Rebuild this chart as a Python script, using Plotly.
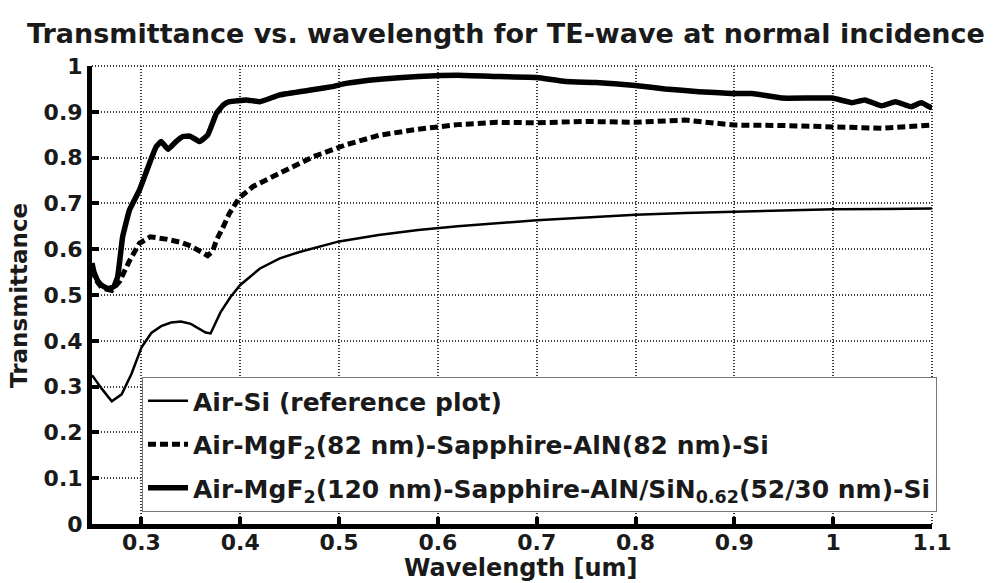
import plotly.graph_objects as go

# ---- data ----
wl_si = [0.25, 0.26, 0.27, 0.28, 0.29, 0.30, 0.31, 0.32, 0.33, 0.34, 0.35, 0.36, 0.365,
         0.37, 0.38, 0.39, 0.40, 0.42, 0.44, 0.46, 0.50, 0.54, 0.58, 0.62, 0.66, 0.70,
         0.75, 0.80, 0.85, 0.90, 0.95, 1.00, 1.05, 1.10]
t_si = [0.325, 0.295, 0.268, 0.283, 0.328, 0.385, 0.417, 0.432, 0.440, 0.442, 0.437, 0.425, 0.418,
        0.416, 0.462, 0.495, 0.522, 0.558, 0.580, 0.594, 0.617, 0.631, 0.642, 0.650, 0.657, 0.663,
        0.669, 0.675, 0.679, 0.682, 0.685, 0.687, 0.688, 0.689]

wl_mgf = [0.25, 0.255, 0.26, 0.27, 0.278, 0.288, 0.298, 0.309, 0.325, 0.34, 0.35, 0.36, 0.367,
          0.372, 0.376, 0.383, 0.389, 0.399, 0.413, 0.44, 0.474, 0.507, 0.541, 0.58, 0.62, 0.66,
          0.70, 0.75, 0.80, 0.85, 0.90, 0.95, 1.00, 1.05, 1.10]
t_mgf = [0.555, 0.530, 0.515, 0.510, 0.530, 0.575, 0.613, 0.627, 0.622, 0.615, 0.607, 0.594, 0.586,
         0.595, 0.620, 0.650, 0.678, 0.712, 0.737, 0.766, 0.802, 0.828, 0.849, 0.862, 0.872, 0.877,
         0.876, 0.879, 0.877, 0.882, 0.871, 0.870, 0.867, 0.864, 0.871]

wl_sin = [0.25, 0.252, 0.256, 0.26, 0.266, 0.272, 0.276, 0.281, 0.288, 0.298, 0.306, 0.315, 0.320,
          0.327, 0.335, 0.342, 0.349, 0.359, 0.367, 0.376, 0.383, 0.389, 0.406, 0.42, 0.44, 0.473,
          0.493, 0.507, 0.541, 0.58, 0.62, 0.662, 0.70, 0.729, 0.76, 0.797, 0.83, 0.864, 0.897,
          0.918, 0.948, 0.999, 1.019, 1.032, 1.049, 1.063, 1.079, 1.089, 1.10]
t_sin = [0.570, 0.550, 0.530, 0.521, 0.514, 0.518, 0.540, 0.627, 0.686, 0.729, 0.775, 0.824, 0.835,
         0.818, 0.835, 0.846, 0.847, 0.835, 0.849, 0.897, 0.915, 0.922, 0.926, 0.922, 0.937, 0.948,
         0.955, 0.962, 0.971, 0.977, 0.980, 0.977, 0.975, 0.966, 0.964, 0.958, 0.950, 0.944, 0.940,
         0.940, 0.930, 0.930, 0.920, 0.926, 0.913, 0.922, 0.911, 0.920, 0.908]

names = [
    "Air-Si (reference plot)",
    "Air-MgF<sub>2</sub>(82 nm)-Sapphire-AlN(82 nm)-Si",
    "Air-MgF<sub>2</sub>(120 nm)-Sapphire-AlN/SiN<sub>0.62</sub>(52/30 nm)-Si",
]

x_ticks = [0.3, 0.4, 0.5, 0.6, 0.7, 0.8, 0.9, 1.0, 1.1]
x_ticktext = ["0.3", "0.4", "0.5", "0.6", "0.7", "0.8", "0.9", "1", "1.1"]
y_ticks = [0, 0.1, 0.2, 0.3, 0.4, 0.5, 0.6, 0.7, 0.8, 0.9, 1.0]
y_ticktext = ["0", "0.1", "0.2", "0.3", "0.4", "0.5", "0.6", "0.7", "0.8", "0.9", "1"]

FONT = "DejaVu Sans"
TXT = "#1a1a1a"
GRID = "#3a3a3a"
GRIDDASH = "1px,2px"

fig = go.Figure()
fig.add_trace(go.Scatter(x=wl_si, y=t_si, mode="lines", name=names[0], legendgroup="g1",
                         line=dict(color="black", width=2.5)))
fig.add_trace(go.Scatter(x=wl_mgf, y=t_mgf, mode="lines", name=names[1], legendgroup="g2",
                         line=dict(color="black", width=5, dash="8px,4px")))
fig.add_trace(go.Scatter(x=wl_sin, y=t_sin, mode="lines", name=names[2], legendgroup="g3",
                         line=dict(color="black", width=5.5, shape="spline", smoothing=0.3)))

axis_common = dict(
    showline=True, linecolor="black", linewidth=5,
    ticks="inside", ticklen=7, tickwidth=4, tickcolor="black",
    showgrid=True, gridcolor=GRID, gridwidth=2, griddash=GRIDDASH,
    zeroline=False, automargin=False,
    tickfont=dict(family=FONT, size=22, color=TXT, weight="bold"),
)

fig.update_xaxes(range=[0.25, 1.1], tickvals=x_ticks, ticktext=x_ticktext,
                 ticklabelstandoff=-5, **axis_common)
fig.update_yaxes(range=[0, 1], tickvals=y_ticks, ticktext=y_ticktext,
                 **axis_common)

# axis titles
fig.add_annotation(text="Wavelength [um]", xref="paper", yref="paper",
                   x=0.51, y=-0.097, xanchor="center", yanchor="middle", showarrow=False,
                   borderpad=0,
                   font=dict(family=FONT, size=24, color=TXT, weight="bold"))
fig.add_annotation(text="Transmittance", xref="paper", yref="paper", textangle=-90,
                   x=-0.087, y=0.5, xanchor="center", yanchor="middle", showarrow=False,
                   font=dict(family=FONT, size=23, color=TXT, weight="bold"))

# dotted frame on top and right edges
fig.add_shape(type="line", xref="paper", yref="paper", x0=0, x1=1, y0=1, y1=1,
              line=dict(color=GRID, width=2, dash=GRIDDASH), layer="below")
fig.add_shape(type="line", xref="paper", yref="paper", x0=1, x1=1, y0=0, y1=1,
              line=dict(color=GRID, width=2, dash=GRIDDASH), layer="below")

fig.update_layout(
    width=998, height=583,
    margin=dict(l=92, r=66, t=66, b=59),
    paper_bgcolor="white", plot_bgcolor="white",
    title=dict(text="Transmittance vs. wavelength for TE-wave at normal incidence",
               x=0.507, xref="container", xanchor="center",
               y=0.943, yref="container", yanchor="middle",
               font=dict(family=FONT, size=27, color=TXT, weight="bold")),
    legend=dict(x=0.0595, y=0.026, xanchor="left", yanchor="bottom",
                bgcolor="white", bordercolor="#777777", borderwidth=1,
                font=dict(family=FONT, size=25, color=TXT, weight="bold"),
                itemwidth=40, tracegroupgap=8),
    showlegend=True,
)

fig.write_html("out.html")
